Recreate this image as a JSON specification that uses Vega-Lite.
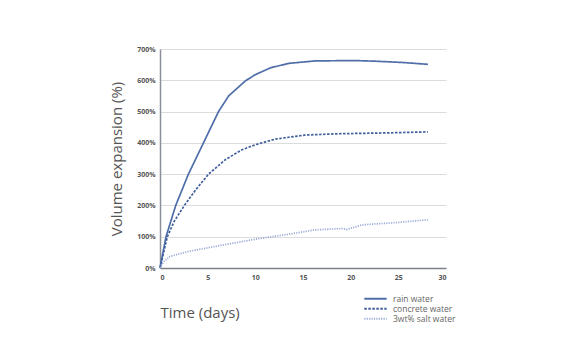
{
  "$schema": "https://vega.github.io/schema/vega-lite/v6.json",
  "autosize": "none",
  "width": 286,
  "height": 219,
  "padding": {"left": 160, "top": 49, "right": 129, "bottom": 84},
  "background": "white",
  "config": {
    "view": {"stroke": null},
    "font": "Open Sans"
  },
  "data": {
    "values": [
      {"day": 0, "value": 0, "series": "rain water"},
      {"day": 0.63, "value": 100, "series": "rain water"},
      {"day": 1.65, "value": 200, "series": "rain water"},
      {"day": 2.98, "value": 300, "series": "rain water"},
      {"day": 4.56, "value": 400, "series": "rain water"},
      {"day": 6.14, "value": 500, "series": "rain water"},
      {"day": 7.2, "value": 550, "series": "rain water"},
      {"day": 8.95, "value": 598, "series": "rain water"},
      {"day": 10, "value": 618, "series": "rain water"},
      {"day": 11.6, "value": 640, "series": "rain water"},
      {"day": 13.5, "value": 654, "series": "rain water"},
      {"day": 16.3, "value": 662, "series": "rain water"},
      {"day": 20.5, "value": 663, "series": "rain water"},
      {"day": 22.6, "value": 661, "series": "rain water"},
      {"day": 25.4, "value": 657, "series": "rain water"},
      {"day": 28.1, "value": 651, "series": "rain water"},
      {"day": 0, "value": 0, "series": "concrete water"},
      {"day": 0.77, "value": 100, "series": "concrete water"},
      {"day": 1.5, "value": 150, "series": "concrete water"},
      {"day": 2.56, "value": 200, "series": "concrete water"},
      {"day": 3.8, "value": 252, "series": "concrete water"},
      {"day": 5.09, "value": 300, "series": "concrete water"},
      {"day": 6.84, "value": 346, "series": "concrete water"},
      {"day": 8.6, "value": 378, "series": "concrete water"},
      {"day": 10, "value": 394, "series": "concrete water"},
      {"day": 12.1, "value": 412, "series": "concrete water"},
      {"day": 15.2, "value": 425, "series": "concrete water"},
      {"day": 18.7, "value": 429, "series": "concrete water"},
      {"day": 24, "value": 432, "series": "concrete water"},
      {"day": 28.1, "value": 435, "series": "concrete water"},
      {"day": 0, "value": 0, "series": "3wt% salt water"},
      {"day": 0.35, "value": 19, "series": "3wt% salt water"},
      {"day": 1.05, "value": 37, "series": "3wt% salt water"},
      {"day": 3, "value": 53, "series": "3wt% salt water"},
      {"day": 6.5, "value": 73, "series": "3wt% salt water"},
      {"day": 10, "value": 92, "series": "3wt% salt water"},
      {"day": 13.5, "value": 108, "series": "3wt% salt water"},
      {"day": 16.3, "value": 122, "series": "3wt% salt water"},
      {"day": 19.1, "value": 126, "series": "3wt% salt water"},
      {"day": 19.6, "value": 123, "series": "3wt% salt water"},
      {"day": 21.2, "value": 138, "series": "3wt% salt water"},
      {"day": 24.7, "value": 145, "series": "3wt% salt water"},
      {"day": 28.1, "value": 154, "series": "3wt% salt water"}
    ]
  },
  "mark": {"type": "line", "strokeWidth": 1.7},
  "encoding": {
    "x": {
      "field": "day", "type": "quantitative",
      "scale": {"domain": [0, 30], "nice": false},
      "axis": {
        "values": [0, 5, 10, 15, 20, 25, 30],
        "grid": false, "ticks": false,
        "domainColor": "#7a7f88", "domainWidth": 1.5,
        "labelFontSize": 7, "labelFontWeight": "bold", "labelColor": "#555",
        "labelPadding": 5,
        "title": "Time (days)", "titleFontSize": 15, "titleFontWeight": "normal",
        "titleColor": "#555", "titleAnchor": "start", "titleAlign": "left",
        "titleX": 0, "titleY": 37
      }
    },
    "y": {
      "field": "value", "type": "quantitative",
      "scale": {"domain": [0, 700], "nice": false},
      "axis": {
        "values": [0, 100, 200, 300, 400, 500, 600, 700],
        "labelExpr": "datum.value + '%'",
        "grid": true, "gridColor": "#dcdcdc", "gridWidth": 1,
        "ticks": false,
        "domainColor": "#8a8f98", "domainWidth": 1.5,
        "labelFontSize": 7, "labelFontWeight": "bold", "labelColor": "#555",
        "labelPadding": 5,
        "title": "Volume expansion (%)", "titleFontSize": 15, "titleFontWeight": "normal",
        "titleColor": "#555", "titlePadding": 12
      }
    },
    "color": {
      "field": "series", "type": "nominal",
      "sort": ["rain water", "concrete water", "3wt% salt water"],
      "scale": {
        "domain": ["rain water", "concrete water", "3wt% salt water"],
        "range": ["#4f6ea8", "#3f5e9e", "#9aaad6"]
      },
      "legend": {
        "orient": "none", "legendX": 203, "legendY": 245,
        "title": null,
        "symbolType": "stroke", "symbolSize": 500, "symbolStrokeWidth": 2,
        "labelFontSize": 8.5, "labelColor": "#666",
        "labelOffset": 5, "rowPadding": 0, "clipHeight": 9.3
      }
    },
    "strokeDash": {
      "field": "series", "type": "nominal",
      "sort": ["rain water", "concrete water", "3wt% salt water"],
      "scale": {
        "domain": ["rain water", "concrete water", "3wt% salt water"],
        "range": [[1, 0], [2.5, 1.5], [1.2, 1.2]]
      },
      "legend": null
    }
  }
}
